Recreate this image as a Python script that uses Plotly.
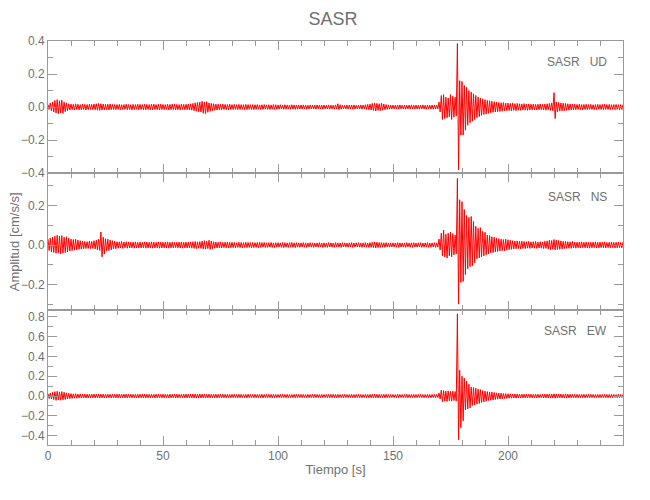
import numpy as np
import plotly.graph_objects as go

# ---- data: per-second peak envelope (max / min) of each component, cm/s/s, t = 0..250 s ----
BIN = 1.0
station = "SASR"
components = ["UD", "NS", "EW"]

ud_max = [
    .015,.025,.030,.040,.045,.038,.042,.030,.025,.020,
    .018,.016,.020,.017,.015,.018,.016,.015,.017,.016,
    .018,.020,.022,.020,.018,.016,.017,.019,.016,.015,
    .015,.016,.014,.015,.017,.015,.014,.016,.015,.017,
    .016,.015,.017,.016,.015,.017,.018,.015,.016,.017,
    .016,.015,.017,.016,.018,.017,.016,.015,.017,.016,
    .017,.018,.020,.022,.026,.028,.030,.035,.030,.032,
    .025,.022,.020,.018,.017,.016,.018,.016,.015,.017,
    .015,.016,.014,.016,.015,.014,.016,.015,.014,.015,
    .014,.015,.013,.014,.015,.013,.014,.013,.015,.014,
    .013,.014,.012,.014,.013,.012,.014,.013,.012,.013,
    .012,.013,.012,.011,.013,.012,.011,.013,.012,.011,
    .012,.011,.013,.012,.011,.013,.020,.014,.012,.011,
    .012,.011,.012,.013,.011,.012,.013,.012,.014,.016,
    .018,.022,.025,.022,.020,.024,.018,.015,.013,.012,
    .012,.011,.012,.013,.011,.012,.011,.012,.013,.011,
    .012,.011,.012,.013,.011,.012,.011,.012,.013,.012,
    .030,.070,.075,.060,.055,.075,.065,.060,.385,.160,
    .155,.130,.120,.100,.090,.080,.070,.060,.055,.050,
    .045,.040,.038,.035,.032,.030,.028,.026,.027,.024,
    .024,.022,.025,.021,.022,.020,.019,.021,.018,.019,
    .017,.018,.016,.017,.019,.016,.018,.020,.022,.025,
    .087,.030,.028,.025,.024,.022,.020,.019,.018,.017,
    .016,.017,.015,.016,.017,.015,.016,.014,.015,.016,
    .015,.016,.017,.015,.016,.014,.015,.016,.014,.015,.014,
]
ud_min = [
    -.015,-.022,-.030,-.036,-.040,-.035,-.038,-.028,-.022,-.018,
    -.016,-.018,-.015,-.017,-.016,-.015,-.018,-.016,-.015,-.016,
    -.017,-.019,-.020,-.018,-.017,-.016,-.018,-.016,-.015,-.016,
    -.015,-.016,-.015,-.014,-.016,-.015,-.017,-.015,-.014,-.016,
    -.015,-.016,-.017,-.015,-.016,-.017,-.015,-.016,-.018,-.015,
    -.016,-.015,-.017,-.016,-.015,-.018,-.016,-.017,-.015,-.016,
    -.016,-.017,-.019,-.022,-.025,-.028,-.030,-.038,-.040,-.032,
    -.026,-.022,-.019,-.018,-.016,-.017,-.015,-.016,-.017,-.015,
    -.015,-.014,-.016,-.015,-.014,-.016,-.015,-.014,-.015,-.016,
    -.014,-.013,-.015,-.014,-.013,-.014,-.015,-.013,-.014,-.013,
    -.013,-.012,-.014,-.013,-.012,-.013,-.012,-.014,-.013,-.012,
    -.012,-.011,-.013,-.012,-.011,-.012,-.013,-.011,-.012,-.013,
    -.011,-.012,-.013,-.011,-.012,-.012,-.016,-.013,-.011,-.012,
    -.012,-.011,-.013,-.012,-.011,-.012,-.013,-.011,-.014,-.016,
    -.018,-.021,-.024,-.020,-.022,-.019,-.016,-.014,-.013,-.012,
    -.011,-.012,-.013,-.011,-.012,-.013,-.011,-.012,-.011,-.012,
    -.012,-.013,-.011,-.012,-.013,-.011,-.012,-.013,-.012,-.011,
    -.030,-.075,-.070,-.065,-.060,-.075,-.060,-.055,-.380,-.170,
    -.170,-.140,-.110,-.095,-.085,-.075,-.065,-.058,-.050,-.045,
    -.042,-.038,-.035,-.032,-.030,-.028,-.027,-.025,-.023,-.022,
    -.021,-.023,-.020,-.022,-.019,-.020,-.018,-.019,-.020,-.018,
    -.017,-.016,-.018,-.017,-.016,-.018,-.019,-.017,-.020,-.022,
    -.070,-.028,-.025,-.023,-.022,-.020,-.019,-.018,-.017,-.016,
    -.015,-.016,-.017,-.015,-.016,-.014,-.015,-.016,-.015,-.014,
    -.015,-.016,-.014,-.015,-.016,-.014,-.015,-.014,-.016,-.015,-.014,
]

ns_max = [
    .030,.035,.040,.045,.050,.045,.048,.040,.042,.035,
    .030,.028,.030,.025,.022,.020,.018,.017,.020,.018,
    .022,.025,.030,.066,.040,.032,.030,.025,.022,.020,
    .017,.016,.018,.015,.017,.016,.014,.015,.016,.014,
    .015,.014,.016,.015,.014,.016,.015,.014,.016,.015,
    .014,.015,.016,.014,.015,.013,.014,.015,.016,.014,
    .015,.014,.016,.017,.018,.016,.017,.020,.022,.019,
    .024,.020,.017,.015,.014,.016,.013,.014,.015,.013,
    .014,.013,.012,.014,.013,.012,.014,.013,.012,.013,
    .012,.013,.014,.012,.013,.011,.012,.013,.011,.012,
    .012,.011,.013,.012,.011,.012,.013,.011,.012,.011,
    .011,.012,.011,.010,.012,.011,.010,.011,.012,.010,
    .011,.010,.012,.011,.010,.012,.011,.010,.012,.011,
    .010,.011,.012,.010,.011,.012,.010,.011,.012,.010,
    .012,.014,.016,.014,.013,.012,.011,.012,.010,.011,
    .011,.010,.012,.011,.010,.011,.012,.010,.011,.012,
    .010,.011,.012,.010,.011,.012,.010,.011,.012,.011,
    .030,.060,.076,.055,.060,.065,.058,.050,.338,.230,
    .220,.180,.150,.140,.145,.120,.095,.085,.088,.070,
    .065,.050,.048,.042,.040,.036,.032,.030,.028,.030,
    .027,.024,.022,.020,.021,.019,.020,.018,.017,.018,
    .016,.017,.018,.015,.017,.016,.019,.021,.025,.023,
    .028,.026,.023,.021,.019,.018,.017,.016,.018,.015,
    .014,.015,.016,.014,.015,.013,.014,.015,.016,.014,
    .015,.014,.016,.013,.014,.015,.013,.014,.015,.013,.014,
]
ns_min = [
    -.028,-.035,-.038,-.042,-.040,-.045,-.041,-.038,-.035,-.030,
    -.028,-.026,-.025,-.022,-.021,-.019,-.018,-.017,-.018,-.017,
    -.020,-.024,-.028,-.060,-.045,-.030,-.028,-.024,-.020,-.019,
    -.016,-.015,-.017,-.014,-.016,-.015,-.014,-.016,-.015,-.014,
    -.015,-.014,-.016,-.015,-.014,-.016,-.015,-.014,-.016,-.015,
    -.014,-.015,-.016,-.014,-.015,-.013,-.014,-.015,-.016,-.014,
    -.015,-.014,-.016,-.017,-.018,-.016,-.017,-.020,-.021,-.018,
    -.022,-.019,-.016,-.015,-.014,-.015,-.013,-.014,-.015,-.013,
    -.013,-.014,-.012,-.013,-.014,-.012,-.013,-.012,-.014,-.013,
    -.012,-.013,-.012,-.011,-.013,-.012,-.011,-.012,-.013,-.011,
    -.011,-.012,-.013,-.011,-.012,-.011,-.012,-.013,-.011,-.012,
    -.010,-.011,-.012,-.010,-.011,-.012,-.010,-.011,-.010,-.012,
    -.011,-.012,-.010,-.011,-.012,-.010,-.011,-.012,-.010,-.011,
    -.011,-.010,-.012,-.011,-.010,-.011,-.012,-.010,-.011,-.012,
    -.012,-.013,-.015,-.013,-.012,-.011,-.012,-.010,-.011,-.010,
    -.010,-.011,-.012,-.010,-.011,-.012,-.010,-.011,-.012,-.010,
    -.011,-.010,-.012,-.011,-.010,-.012,-.011,-.010,-.012,-.011,
    -.025,-.055,-.060,-.066,-.055,-.060,-.050,-.045,-.300,-.190,
    -.185,-.150,-.120,-.110,-.105,-.090,-.070,-.065,-.060,-.055,
    -.050,-.045,-.040,-.038,-.035,-.033,-.030,-.028,-.030,-.026,
    -.024,-.022,-.020,-.019,-.018,-.020,-.017,-.018,-.016,-.017,
    -.015,-.016,-.017,-.015,-.016,-.018,-.017,-.020,-.024,-.022,
    -.025,-.023,-.022,-.020,-.018,-.017,-.016,-.017,-.015,-.016,
    -.014,-.015,-.013,-.014,-.015,-.016,-.014,-.013,-.015,-.014,
    -.013,-.014,-.015,-.013,-.014,-.013,-.015,-.014,-.013,-.014,-.013,
]

ew_max = [
    .025,.030,.038,.045,.048,.042,.045,.038,.032,.028,
    .025,.022,.024,.020,.022,.019,.021,.018,.020,.019,
    .020,.018,.021,.019,.020,.018,.019,.017,.019,.018,
    .019,.020,.018,.019,.020,.017,.019,.018,.017,.019,
    .018,.019,.020,.017,.019,.018,.017,.019,.018,.017,
    .019,.018,.017,.019,.018,.020,.019,.017,.018,.019,
    .020,.018,.019,.020,.022,.019,.021,.020,.019,.018,
    .019,.017,.018,.019,.017,.018,.019,.017,.018,.016,
    .017,.018,.016,.017,.018,.016,.017,.018,.016,.017,
    .018,.016,.017,.018,.016,.017,.018,.016,.017,.016,
    .016,.017,.018,.016,.017,.015,.016,.017,.018,.016,
    .017,.016,.015,.017,.016,.018,.017,.016,.015,.017,
    .016,.015,.017,.016,.018,.016,.017,.015,.016,.017,
    .015,.016,.017,.015,.016,.017,.016,.015,.017,.016,
    .017,.018,.019,.017,.018,.016,.017,.018,.016,.015,
    .016,.015,.017,.016,.015,.016,.017,.015,.016,.017,
    .015,.016,.017,.015,.016,.017,.015,.016,.017,.016,
    .030,.060,.055,.050,.052,.048,.050,.045,.830,.260,
    .200,.180,.150,.120,.090,.085,.080,.070,.065,.055,
    .050,.045,.042,.040,.036,.032,.030,.028,.026,.024,
    .023,.022,.021,.020,.022,.019,.020,.018,.019,.018,
    .018,.017,.019,.018,.017,.018,.019,.020,.022,.021,
    .023,.021,.020,.019,.018,.022,.020,.018,.017,.018,
    .017,.016,.018,.017,.016,.018,.017,.016,.015,.017,
    .016,.015,.017,.016,.015,.017,.016,.015,.017,.016,.015,
]
ew_min = [
    -.025,-.030,-.036,-.044,-.040,-.042,-.038,-.035,-.030,-.026,
    -.023,-.021,-.022,-.019,-.021,-.018,-.020,-.018,-.019,-.018,
    -.019,-.018,-.020,-.018,-.019,-.017,-.018,-.019,-.017,-.018,
    -.018,-.019,-.017,-.018,-.019,-.017,-.018,-.017,-.019,-.018,
    -.017,-.018,-.019,-.017,-.018,-.017,-.019,-.018,-.017,-.018,
    -.018,-.017,-.019,-.018,-.017,-.019,-.018,-.017,-.019,-.018,
    -.019,-.018,-.020,-.019,-.021,-.020,-.019,-.018,-.020,-.018,
    -.018,-.017,-.018,-.019,-.017,-.018,-.017,-.018,-.016,-.017,
    -.016,-.017,-.018,-.016,-.017,-.016,-.018,-.017,-.016,-.017,
    -.017,-.016,-.017,-.018,-.016,-.017,-.016,-.018,-.017,-.016,
    -.016,-.017,-.015,-.016,-.017,-.016,-.015,-.017,-.016,-.015,
    -.016,-.015,-.017,-.016,-.015,-.017,-.016,-.015,-.017,-.016,
    -.015,-.016,-.017,-.015,-.016,-.017,-.015,-.016,-.017,-.015,
    -.016,-.015,-.016,-.017,-.015,-.016,-.017,-.015,-.016,-.017,
    -.017,-.018,-.017,-.019,-.017,-.016,-.018,-.017,-.016,-.015,
    -.015,-.016,-.017,-.015,-.016,-.015,-.017,-.016,-.015,-.016,
    -.016,-.015,-.016,-.017,-.015,-.016,-.017,-.015,-.016,-.015,
    -.030,-.057,-.050,-.055,-.048,-.052,-.045,-.050,-.440,-.320,
    -.250,-.140,-.130,-.120,-.095,-.090,-.080,-.075,-.065,-.060,
    -.052,-.045,-.042,-.040,-.035,-.032,-.030,-.028,-.025,-.024,
    -.022,-.021,-.020,-.021,-.019,-.020,-.018,-.019,-.018,-.017,
    -.018,-.017,-.018,-.017,-.018,-.019,-.018,-.019,-.021,-.020,
    -.022,-.020,-.019,-.018,-.019,-.021,-.019,-.018,-.017,-.018,
    -.017,-.016,-.017,-.018,-.016,-.017,-.016,-.017,-.015,-.016,
    -.016,-.015,-.016,-.017,-.015,-.016,-.015,-.017,-.016,-.015,-.016,
]

envelopes = [(ud_max, ud_min), (ns_max, ns_min), (ew_max, ew_min)]
y_ranges = [[-0.4001, 0.4001], [-0.33, 0.365], [-0.494, 0.868]]
x_ticks = [0, 50, 100, 150, 200]

# ---- styling ----
FONT = "Liberation Sans Narrow, Liberation Sans, Arial Narrow, sans-serif"
TXT = "#707070"
AX = "#9a9a9a"
domains = [[0.673, 1.0], [0.334, 0.673], [0.0, 0.334]]

fig = go.Figure()
for i, (hi, lo) in enumerate(envelopes):
    n = len(hi)
    t0 = np.arange(n) * BIN
    # draw each bin as max then min (standard min/max waveform decimation)
    x = np.column_stack([t0, t0 + BIN / 2]).ravel()
    y = np.column_stack([np.asarray(hi), np.asarray(lo)]).ravel()
    fig.add_trace(go.Scatter(
        x=x, y=y, mode="lines",
        line=dict(color="rgb(255,0,0)", width=1.0),
        xaxis="x" if i == 0 else f"x{i+1}",
        yaxis="y" if i == 0 else f"y{i+1}",
        showlegend=False, hoverinfo="skip",
    ))

layout = dict(
    width=650, height=500,
    margin=dict(l=40, r=35, t=33, b=63),
    paper_bgcolor="white", plot_bgcolor="white",
    font=dict(family=FONT, color=TXT, size=12),
    title=dict(text=station, x=0.5, xanchor="center", y=0.978, yanchor="middle",
               font=dict(size=18, color=TXT, family=FONT)),
)

for i in range(3):
    xa = "xaxis" if i == 0 else f"xaxis{i+1}"
    ya = "yaxis" if i == 0 else f"yaxis{i+1}"
    yid = "y" if i == 0 else f"y{i+1}"
    xid = "x" if i == 0 else f"x{i+1}"
    layout[xa] = dict(
        domain=[0, 1], anchor=yid, range=[0, 250], automargin=False,
        tickmode="array", tickvals=x_ticks,
        showticklabels=(i == 2),
        ticks="inside", ticklen=9, tickwidth=1, tickcolor=AX,
        minor=dict(dtick=10, tick0=0, ticks="inside", ticklen=5, tickcolor=AX, showgrid=False),
        showline=True, linecolor=AX, linewidth=1, mirror="ticks",
        showgrid=False, zeroline=False,
        tickfont=dict(size=12, color=TXT, family=FONT),
    )
    if i > 0:
        layout[xa]["matches"] = "x"
    layout[ya] = dict(
        domain=domains[i], anchor=xid, range=y_ranges[i], automargin=False,
        dtick=0.2, tick0=0, tickformat=".1f",
        ticks="inside", ticklen=9, tickwidth=1, tickcolor=AX,
        minor=dict(dtick=0.1, tick0=0, ticks="inside", ticklen=5, tickcolor=AX, showgrid=False),
        showline=True, linecolor=AX, linewidth=1, mirror="ticks",
        showgrid=False, zeroline=False,
        tickfont=dict(size=12, color=TXT, family=FONT),
    )

layout["xaxis3"]["title"] = dict(text="Tiempo [s]", standoff=2,
                                 font=dict(size=13, color=TXT, family=FONT))

annotations = []
label_y = [0.947, 0.615, 0.281]
for i, comp in enumerate(components):
    annotations.append(dict(
        text=f"{station}\u00a0\u00a0\u00a0{comp}", xref="paper", yref="paper",
        x=0.975, y=label_y[i], xanchor="right", yanchor="middle", showarrow=False,
        font=dict(size=12, color=TXT, family=FONT),
    ))
annotations.append(dict(
    text="Amplitud [cm/s/s]", xref="paper", yref="paper",
    x=-0.059, y=0.502, xanchor="center", yanchor="middle", textangle=-90,
    showarrow=False, font=dict(size=13, color=TXT, family=FONT),
))
layout["annotations"] = annotations

fig.update_layout(**layout)
fig.write_html("out.html")
